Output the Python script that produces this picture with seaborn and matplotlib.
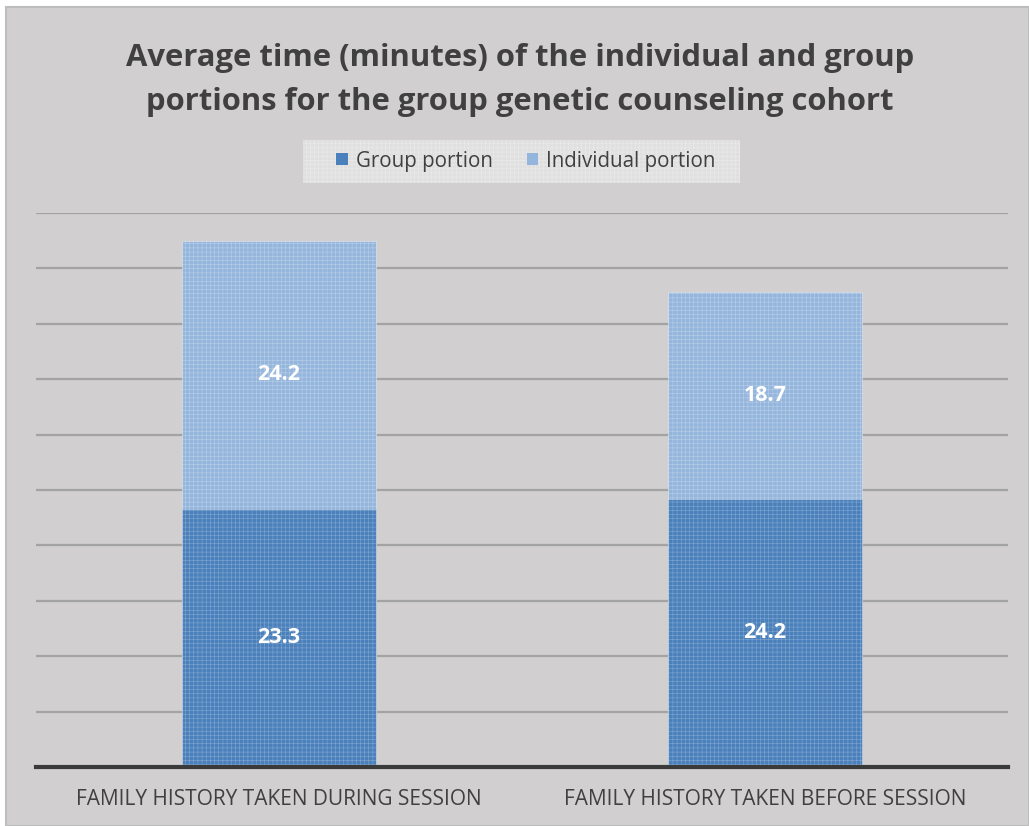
import matplotlib
matplotlib.use("Agg")
import matplotlib.pyplot as plt
from matplotlib.patches import Rectangle, Patch
import seaborn as sns
import pandas as pd

# Average minutes per cohort
categories = ["FAMILY HISTORY TAKEN DURING SESSION", "FAMILY HISTORY TAKEN BEFORE SESSION"]
group_portion = [23.3, 24.2]
individual_portion = [24.2, 18.7]
series_names = ["Group portion", "Individual portion"]
title_text = ("Average time (minutes) of the individual and group\n"
              "portions for the group genetic counseling cohort")

GROUP_COLOR = "#4a80bb"
INDIV_COLOR = "#94b5dc"
PANEL_BG = "#d1cfd0"
TEXT_COLOR = "#404040"

sns.set_theme(style="white")
plt.rcParams["font.family"] = ["Open Sans", "DejaVu Sans"]
plt.rcParams["hatch.linewidth"] = 0.4

df = pd.DataFrame({
    "category": categories,
    "group": group_portion,
    "individual": individual_portion,
})
df["total"] = df["group"] + df["individual"]

W, H = 1029, 826
fig = plt.figure(figsize=(W / 100, H / 100), dpi=100, facecolor="white")

# chart panel with thin border
fig.patches.append(Rectangle((6 / W, 0), 1 - 6 / W, 1 - 7 / H, transform=fig.transFigure,
                             facecolor=PANEL_BG, edgecolor="#bdbdbd", linewidth=1.5, zorder=-10))
# legend background strip
legend_bg = Rectangle((303 / W, 1 - 183 / H), 437 / W, 43 / H, transform=fig.transFigure,
                      facecolor="#e0e0e0", edgecolor=(1, 1, 1, 0.35), hatch="++++",
                      linewidth=0, zorder=-5)
fig.patches.append(legend_bg)

ax = fig.add_axes([36 / W, (H - 767) / H, (1008 - 36) / W, (767 - 213) / H])
ax.set_facecolor("none")

bar_kw = dict(width=0.4, linewidth=0.8, hatch="++++", zorder=3)
sns.barplot(data=df, x="category", y="total", color=INDIV_COLOR, ax=ax,
            edgecolor=(1, 1, 1, 0.35), saturation=1, **bar_kw)
sns.barplot(data=df, x="category", y="group", color=GROUP_COLOR, ax=ax,
            edgecolor=(1, 1, 1, 0.3), saturation=1, **bar_kw)

ax.set_ylim(0, 50)
ax.set_xlim(-0.5, 1.5)
ax.set_yticks(range(5, 51, 5))
ax.yaxis.grid(True, color="#a3a3a3", linewidth=1.6)
ax.set_axisbelow(True)
ax.tick_params(axis="y", left=False, labelleft=False)
ax.tick_params(axis="x", bottom=False, labelsize=15, labelcolor=TEXT_COLOR, pad=10)
ax.set_xlabel("")
ax.set_ylabel("")
for side in ["top", "right", "left"]:
    ax.spines[side].set_visible(False)
ax.spines["bottom"].set_color("#3a3a3a")
ax.spines["bottom"].set_linewidth(3)
ax.spines["bottom"].set_zorder(5)

# value labels centred in each segment
for i, (g, ind) in enumerate(zip(df["group"], df["individual"])):
    ax.text(i, g / 2, f"{g:.1f}", ha="center", va="center", color="white",
            fontsize=15.5, fontweight="bold", zorder=6)
    ax.text(i, g + ind / 2, f"{ind:.1f}", ha="center", va="center", color="white",
            fontsize=15.5, fontweight="bold", zorder=6)

fig.text(520 / W, 1 - 80 / H, title_text, ha="center", va="center", fontsize=22.3,
         fontweight="bold", color=TEXT_COLOR, linespacing=1.62)

handles = [Patch(facecolor=GROUP_COLOR, edgecolor="none", hatch="++++"),
           Patch(facecolor=INDIV_COLOR, edgecolor="none", hatch="++++")]
leg = fig.legend(handles, series_names, loc="center", bbox_to_anchor=(526 / W, 1 - 161 / H),
                 ncol=2, frameon=False,
                 fontsize=14.8, handlelength=0.55, handleheight=0.55, handletextpad=0.4,
                 columnspacing=1.65, borderpad=0.3)
for t in leg.get_texts():
    t.set_color(TEXT_COLOR)

fig.savefig("out.png", dpi=100, facecolor="white")
